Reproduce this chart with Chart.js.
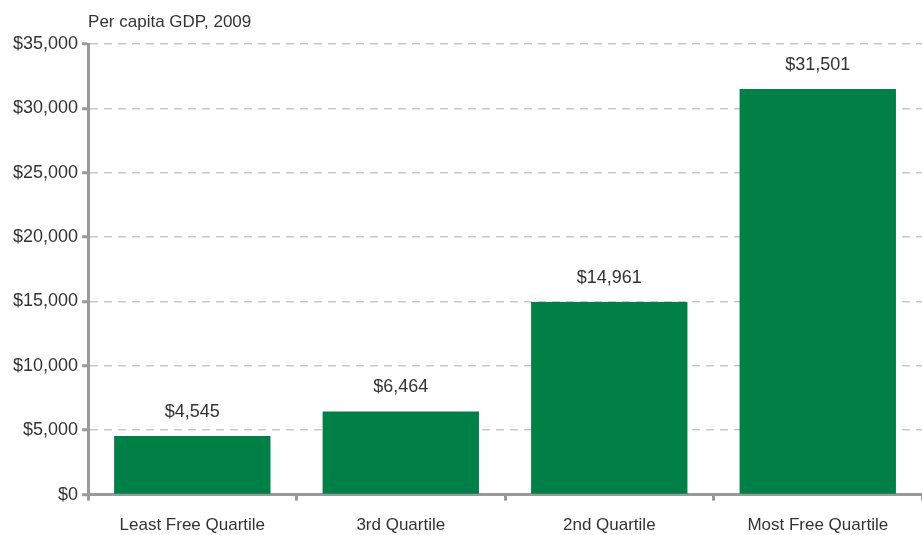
<!DOCTYPE html>
<html><head><meta charset="utf-8">
<script src="https://cdn.jsdelivr.net/npm/chart.js@4"></script>
<style>html,body{margin:0;padding:0;background:#fff}#wrap{width:922px;height:535px}</style>
</head><body><div id="wrap"><canvas id="c" width="922" height="535"></canvas></div>
<script>
const categories = ["Least Free Quartile", "3rd Quartile", "2nd Quartile", "Most Free Quartile"];
const gdpValues = [4545, 6464, 14961, 31501];
const yTicks = [0, 5000, 10000, 15000, 20000, 25000, 30000, 35000];
const chartTitle = "Per capita GDP, 2009";

const FONT = "'Liberation Sans', Arial, sans-serif";
const fmt = v => '$' + v.toLocaleString('en-US');

const labelPlugin = {
  id: 'labels',
  afterDatasetsDraw(chart) {
    const ctx = chart.ctx;
    const meta = chart.getDatasetMeta(0);
    ctx.save();
    ctx.font = '18px ' + FONT;
    ctx.fillStyle = '#333';
    ctx.textAlign = 'center';
    ctx.textBaseline = 'bottom';
    meta.data.forEach((bar, i) => {
      ctx.fillText(fmt(gdpValues[i]), bar.x, bar.y - 15);
    });
    ctx.textAlign = 'left';
    ctx.font = '17px ' + FONT;
    ctx.fillText(chartTitle, chart.chartArea.left, chart.chartArea.top - 13);
    ctx.restore();
  }
};

new Chart(document.getElementById('c'), {
  type: 'bar',
  data: { labels: categories, datasets: [{ data: gdpValues, backgroundColor: '#007f46', barPercentage: 0.75, categoryPercentage: 1.0 }] },
  options: {
    responsive: false, animation: false, devicePixelRatio: 1,
    layout: { padding: { top: 44, right: 0, left: 9, bottom: -16 } },
    plugins: { legend: { display: false }, tooltip: { enabled: false } },
    scales: {
      x: {
        offset: true,
        grid: { offset: true, drawOnChartArea: false, tickLength: 6, tickColor: '#999', tickWidth: 3 },
        border: { color: '#999', width: 3 },
        ticks: { font: { family: FONT, size: 17 }, color: '#333', padding: 15 }
      },
      y: {
        min: 0, max: 35000,
        afterBuildTicks(axis) { axis.ticks = yTicks.map(v => ({ value: v })); },
        grid: { color: '#c8c8c8', lineWidth: 1.5, tickLength: 6, tickColor: '#999', tickWidth: 3 },
        border: { color: '#999', width: 3, dash: [8, 6] },
        ticks: { font: { family: FONT, size: 18 }, color: '#333', padding: 4, callback: v => fmt(v) }
      }
    }
  },
  plugins: [labelPlugin]
});
</script></body></html>
